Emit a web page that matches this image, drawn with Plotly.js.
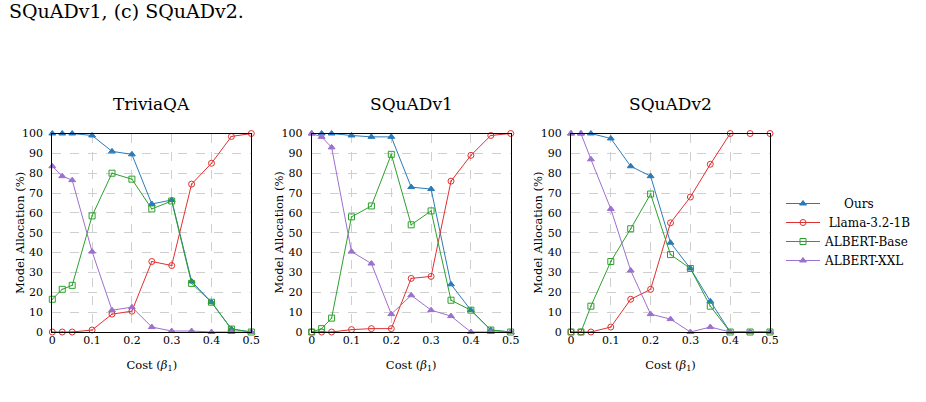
<!DOCTYPE html>
<html>
<head>
<meta charset="utf-8">
<script src="https://cdn.plot.ly/plotly-3.0.1.min.js"></script>
<style>
  html, body { margin: 0; padding: 0; background: #ffffff; }
  #chart { width: 926px; height: 402px; }
</style>
</head>
<body>
<div id="chart"></div>
<script>
// Cost weights (beta_1) swept on the x axis
const costs = [0, 0.025, 0.05, 0.1, 0.15, 0.2, 0.25, 0.3, 0.35, 0.4, 0.45, 0.5];

const datasetNames = ['TriviaQA', 'SQuADv1', 'SQuADv2'];
const seriesNames = ['Ours', 'Llama-3.2-1B', 'ALBERT-Base', 'ALBERT-XXL'];

// Model allocation (%) — TriviaQA
const triviaOurs  = [100, 100, 100, 99, 91, 89.5, 64.5, 66.5, 25.5, 15, 1.5, 0];
const triviaLlama = [0, 0, 0, 1, 9, 10.5, 35.5, 33.5, 74.5, 85, 98.5, 100];
const triviaBase  = [16.5, 21.5, 23.5, 58.5, 80, 77, 62, 66, 24.5, 15, 1.5, 0];
const triviaXXL   = [83.5, 78.5, 76.5, 40.5, 11, 12.5, 2.5, 0.5, 0.5, 0, 0, 0];

// Model allocation (%) — SQuADv1
const squad1Ours  = [100, 100, 100, 99, 98.3, 98.3, 73, 72, 24, 11, 1, 0];
const squad1Llama = [0, 0, 0, 1.2, 1.7, 1.7, 27, 28, 76, 89, 99, 100];
const squad1Base  = [0, 1.7, 7, 58, 63.5, 89.5, 54, 61, 16, 11, 1, 0];
const squad1XXL   = [100, 98.3, 93, 40.5, 34.5, 9, 18.5, 11, 8, 0, 0, 0];

// Model allocation (%) — SQuADv2
const squad2Ours  = [100, 100, 100, 97.5, 83.5, 78.5, 45, 32, 15.5, 0, 0, 0];
const squad2Llama = [0, 0, 0, 2.5, 16.5, 21.5, 55, 68, 84.5, 100, 100, 100];
const squad2Base  = [0, 0, 13, 35.5, 52, 69.5, 39, 32, 13, 0, 0, 0];
const squad2XXL   = [100, 100, 87, 62, 31, 9, 6.5, 0, 2.5, 0, 0, 0];

const xTickVals = [0, 0.1, 0.2, 0.3, 0.4, 0.5];
const xTickText = ['0', '0.1', '0.2', '0.3', '0.4', '0.5'];
const yTickVals = [0, 10, 20, 30, 40, 50, 60, 70, 80, 90, 100];

const panels = [
  [triviaOurs, triviaLlama, triviaBase, triviaXXL],
  [squad1Ours, squad1Llama, squad1Base, squad1XXL],
  [squad2Ours, squad2Llama, squad2Base, squad2XXL]
];

const FONT = '"DejaVu Serif", "Liberation Serif", serif';
const NB = '\u00A0';

// legend labels, padded so the text column sits centred
const legendPad = [5, 1, 0, 0];

const styles = [
  { color: '#2a7ab9', symbol: 'triangle-up', size: 6 },
  { color: '#e0302f', symbol: 'circle-open-dot', size: 6 },
  { color: '#2ca02c', symbol: 'square-open-dot', size: 6 },
  { color: '#9b70cf', symbol: 'triangle-up', size: 6 }
];

const traces = [];
panels.forEach((series, p) => {
  const ax = p === 0 ? '' : String(p + 1);
  series.forEach((vals, s) => {
    traces.push({
      type: 'scatter',
      mode: 'lines+markers',
      x: costs,
      y: vals,
      xaxis: 'x' + ax,
      yaxis: 'y' + ax,
      name: NB.repeat(legendPad[s]) + seriesNames[s],
      legendgroup: seriesNames[s],
      showlegend: p === 0,
      cliponaxis: false,
      line: { color: styles[s].color, width: 1 },
      marker: {
        color: styles[s].color,
        symbol: styles[s].symbol,
        size: styles[s].size,
        line: { color: styles[s].color, width: 1 }
      }
    });
  });
});

const W = 926, H = 402;
const plotTop = 133.5, plotBottom = 332;
const panelLeft = [52.3, 311.7, 571];
const panelWidth = 199;

function xAxis(p) {
  return {
    domain: [panelLeft[p] / W, (panelLeft[p] + panelWidth) / W],
    range: [0, 0.5],
    tickvals: xTickVals,
    ticktext: xTickText,
    ticks: '',
    showgrid: true,
    gridcolor: '#cfcfcf',
    griddash: 'dash',
    gridwidth: 1,
    zeroline: false,
    showline: true,
    linecolor: '#000000',
    linewidth: 1,
    mirror: true,
    ticklabelstandoff: -2,
    tickfont: { family: FONT, size: 11, color: '#000' },
    title: { text: 'Cost (<i>β</i><sub>1</sub>)', font: { family: FONT, size: 11.5, color: '#000' }, standoff: 14 },
    anchor: p === 0 ? 'y' : 'y' + (p + 1),
    fixedrange: true,
    automargin: false
  };
}
function yAxis(p) {
  return {
    domain: [(H - plotBottom) / H, (H - plotTop) / H],
    range: [0, 100],
    tickvals: yTickVals,
    ticks: '',
    showgrid: true,
    gridcolor: '#cfcfcf',
    griddash: 'dash',
    gridwidth: 1,
    zeroline: false,
    showline: true,
    linecolor: '#000000',
    linewidth: 1,
    mirror: true,
    ticklabelstandoff: 6,
    tickfont: { family: FONT, size: 11, color: '#000' },
    anchor: p === 0 ? 'x' : 'x' + (p + 1),
    fixedrange: true,
    automargin: false
  };
}

const annotations = [];
datasetNames.forEach((name, p) => {
  // panel title
  annotations.push({
    text: name,
    xref: 'paper', yref: 'paper',
    x: (panelLeft[p] + panelWidth / 2) / W,
    y: (H - 104) / H,
    xanchor: 'center', yanchor: 'middle',
    showarrow: false,
    font: { family: FONT, size: 17, color: '#000' }
  });
  // y-axis title, placed beside the tick labels
  annotations.push({
    text: 'Model Allocation (%)',
    xref: 'paper', yref: 'paper',
    x: (panelLeft[p] - 33) / W,
    y: (H - (plotTop + plotBottom) / 2) / H,
    xanchor: 'center', yanchor: 'middle',
    textangle: -90,
    showarrow: false,
    font: { family: FONT, size: 11.5, color: '#000' }
  });
});

// caption fragment above the figure
annotations.push({
  text: 'SQuADv1, (c) SQuADv2.',
  xref: 'paper', yref: 'paper',
  x: 7 / W, y: (H - 11) / H,
  xanchor: 'left', yanchor: 'middle',
  showarrow: false,
  font: { family: FONT, size: 19, color: '#000' }
});

const layout = {
  width: W,
  height: H,
  margin: { l: 0, r: 0, t: 0, b: 0 },
  paper_bgcolor: '#ffffff',
  plot_bgcolor: '#ffffff',
  showlegend: true,
  legend: {
    x: 781 / W, y: (H - 232) / H,
    xanchor: 'left', yanchor: 'middle',
    bgcolor: 'rgba(0,0,0,0)',
    borderwidth: 0,
    itemwidth: 34,
    tracegroupgap: 0,
    font: { family: FONT, size: 12, color: '#000' }
  },
  annotations: annotations,
  xaxis: xAxis(0), yaxis: yAxis(0),
  xaxis2: xAxis(1), yaxis2: yAxis(1),
  xaxis3: xAxis(2), yaxis3: yAxis(2)
};

Plotly.newPlot('chart', traces, layout, { displayModeBar: false, staticPlot: true });
</script>
</body>
</html>
